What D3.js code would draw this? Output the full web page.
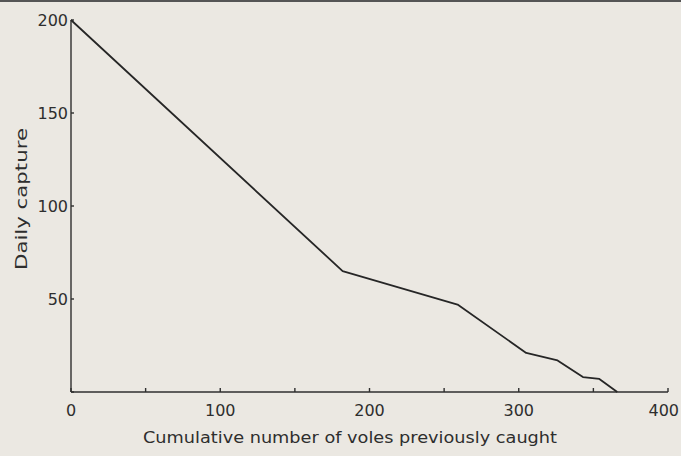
<!DOCTYPE html>
<html><head><meta charset="utf-8">
<script src="https://cdn.jsdelivr.net/npm/d3@7"></script>
<style>
html,body{margin:0;padding:0;background:#ebe8e2;}
svg{display:block;}
text{font-family:"DejaVu Sans",sans-serif;fill:#2e2e2e;}
</style></head>
<body>
<svg id="c" width="681" height="456"></svg>
<script>
const xValues = [0, 182, 259, 305, 326, 343, 354, 366];
const yValues = [200, 65, 47, 21, 17, 8, 7, 0];
const xTicks = [0, 50, 100, 150, 200, 250, 300, 350, 400];
const xTickLabels = [0, 100, 200, 300, 400];
const yTicks = [0, 50, 100, 150, 200];
const xTitle = "Cumulative number of voles previously caught";
const yTitle = "Daily capture";

const svg = d3.select("#c");
svg.append("rect").attr("width",681).attr("height",456).attr("fill","#ebe8e2");
svg.append("rect").attr("width",681).attr("height",2).attr("fill","#555");

const x = d3.scaleLinear().domain([0,400]).range([71,668]);
const y = d3.scaleLinear().domain([0,200]).range([392,20]);
const ink = "#2f2f2f";

// axes lines
svg.append("line").attr("x1",x(0)).attr("x2",x(400)).attr("y1",y(0)).attr("y2",y(0))
  .attr("stroke",ink).attr("stroke-width",1.4);
svg.append("line").attr("x1",x(0)).attr("x2",x(0)).attr("y1",y(0)).attr("y2",y(200))
  .attr("stroke",ink).attr("stroke-width",1.4);

// x ticks
svg.selectAll(".xt").data(xTicks).enter().append("line")
  .attr("x1",d=>x(d)).attr("x2",d=>x(d)).attr("y1",y(0)).attr("y2",y(0)-4)
  .attr("stroke",ink).attr("stroke-width",1.4);
const lastX = xTickLabels[xTickLabels.length-1];
svg.selectAll(".xl").data(xTickLabels).enter().append("text")
  .attr("x",d=> d===lastX ? 679 : x(d)).attr("y",y(0)+24)
  .attr("text-anchor",d=> d===lastX ? "end" : "middle")
  .attr("font-size",16).text(d=>d);

// y ticks
svg.selectAll(".yt").data(yTicks).enter().append("line")
  .attr("x1",x(0)).attr("x2",x(0)+3).attr("y1",d=>y(d)).attr("y2",d=>y(d))
  .attr("stroke",ink).attr("stroke-width",1.4);
svg.selectAll(".yl").data(yTicks.filter(d=>d>0)).enter().append("text")
  .attr("x",x(0)-3).attr("y",d=>y(d)+6).attr("text-anchor","end")
  .attr("font-size",16).text(d=>d);

// titles
svg.append("text").attr("x",350).attr("y",443).attr("text-anchor","middle")
  .attr("font-size",15).attr("textLength",414).attr("lengthAdjust","spacingAndGlyphs").text(xTitle);
svg.append("text").attr("transform","translate(27,199) rotate(-90)").attr("text-anchor","middle")
  .attr("font-size",15).attr("textLength",142).attr("lengthAdjust","spacingAndGlyphs").text(yTitle);

// line
const pts = xValues.map((v,i)=>[v,yValues[i]]);
svg.append("path").datum(pts)
  .attr("d", d3.line().x(d=>x(d[0])).y(d=>y(d[1])))
  .attr("fill","none").attr("stroke","#262626").attr("stroke-width",1.8).attr("stroke-linejoin","round");
</script>
</body></html>
